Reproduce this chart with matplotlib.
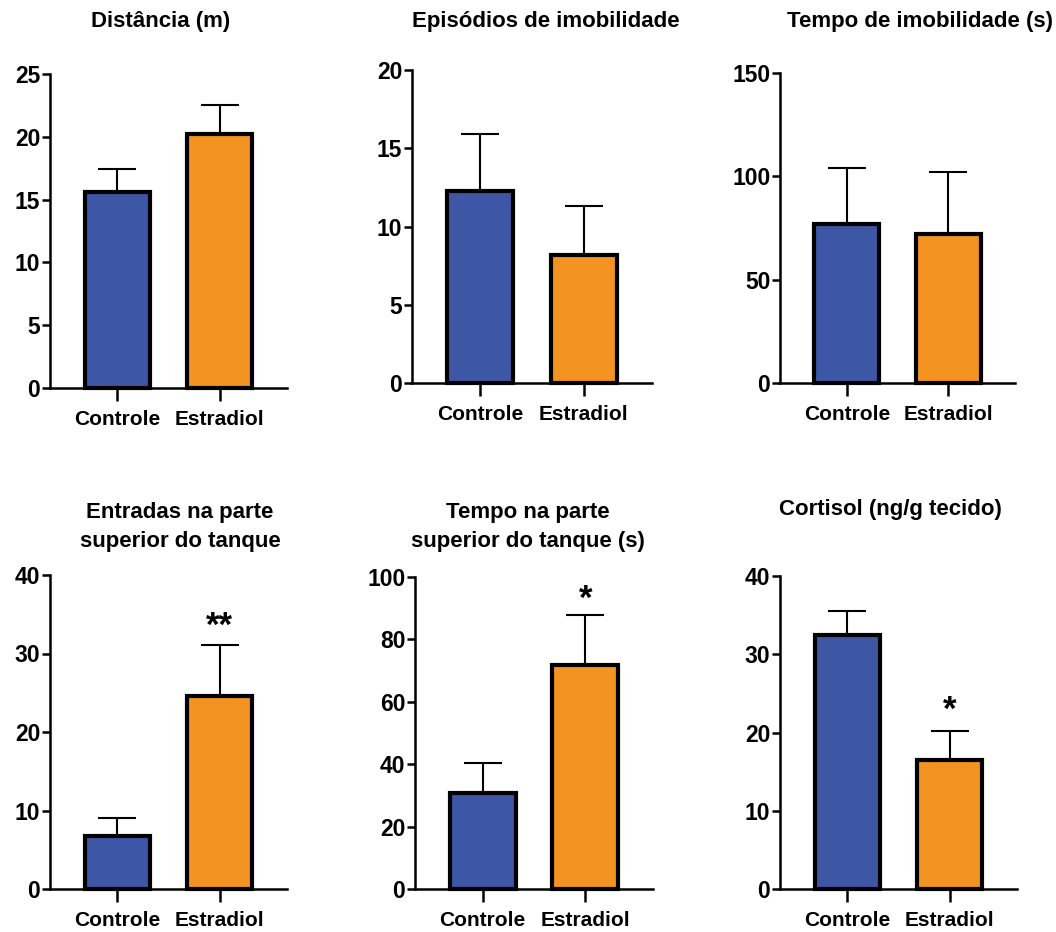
import matplotlib.pyplot as plt

plt.rcParams['font.family'] = ['Liberation Sans', 'DejaVu Sans']
plt.rcParams['font.weight'] = 'bold'

groups = ["Controle", "Estradiol"]
colors = ["#3D57A6", "#F39322"]

titles = [
    "Distância (m)",
    "Episódios de imobilidade",
    "Tempo de imobilidade (s)",
    "Entradas na parte\nsuperior do tanque",
    "Tempo na parte\nsuperior do tanque (s)",
    "Cortisol (ng/g tecido)",
]

# médias e erro padrão
means = [
    [15.6, 20.2],
    [12.3, 8.2],
    [77, 72],
    [6.8, 24.6],
    [30.8, 71.7],
    [32.4, 16.5],
]
sems = [
    [1.8, 2.3],
    [3.6, 3.1],
    [27, 30],
    [2.2, 6.5],
    [9.6, 16.2],
    [3.1, 3.7],
]
ymax = [25, 20, 150, 40, 100, 40]
yticks = [
    [0, 5, 10, 15, 20, 25],
    [0, 5, 10, 15, 20],
    [0, 50, 100, 150],
    [0, 10, 20, 30, 40],
    [0, 20, 40, 60, 80, 100],
    [0, 10, 20, 30, 40],
]
stars = ["", "", "", "**", "*", "*"]
star_y = [0, 0, 0, 33.4, 92.8, 22.8]

W, H = 1056, 932
# caixas dos eixos em pixels: esquerda, direita, base, topo
boxes = [
    (50, 287, 388, 74),
    (412, 652, 383, 70),
    (780, 1015, 383, 73),
    (50, 287, 889, 575),
    (415, 653, 889, 577),
    (780, 1017, 889, 576),
]
title_pos = [(161, 22), (546, 22), (920, 22), (180, 527), (528, 527), (890, 509)]

fig = plt.figure(figsize=(W / 100, H / 100), dpi=100)

for i in range(6):
    l, r, b, t = boxes[i]
    ax = fig.add_axes([l / W, 1 - b / H, (r - l) / W, (b - t) / H])
    x = [0, 1]
    ax.errorbar(x, means[i], yerr=[[0, 0], sems[i]], fmt="none", ecolor="black",
                elinewidth=1.5, capsize=14, capthick=1.5, zorder=1)
    ax.bar(x, means[i], width=0.64, color=colors, edgecolor="black",
           linewidth=3, zorder=2, clip_on=False)
    if stars[i]:
        ax.text(1, star_y[i], stars[i], ha="center", va="center",
                fontsize=25, fontweight="bold")
    ax.set_xlim(-0.66, 1.66)
    ax.set_ylim(0, ymax[i])
    ax.set_yticks(yticks[i])
    ax.set_xticks(x)
    ax.set_xticklabels(groups)
    for s in ["top", "right"]:
        ax.spines[s].set_visible(False)
    for s in ["left", "bottom"]:
        ax.spines[s].set_linewidth(1.8)
    ax.tick_params(axis="y", length=6, width=1.8, labelsize=16.5, pad=1)
    ax.tick_params(axis="x", length=9, width=1.8, labelsize=15, pad=7)
    for lab in ax.get_xticklabels() + ax.get_yticklabels():
        lab.set_fontweight("bold")
    tx, ty = title_pos[i]
    fig.text(tx / W, 1 - ty / H, titles[i], ha="center", va="center",
             fontsize=16, fontweight="bold", linespacing=1.5)

fig.savefig("out.png", dpi=100)
